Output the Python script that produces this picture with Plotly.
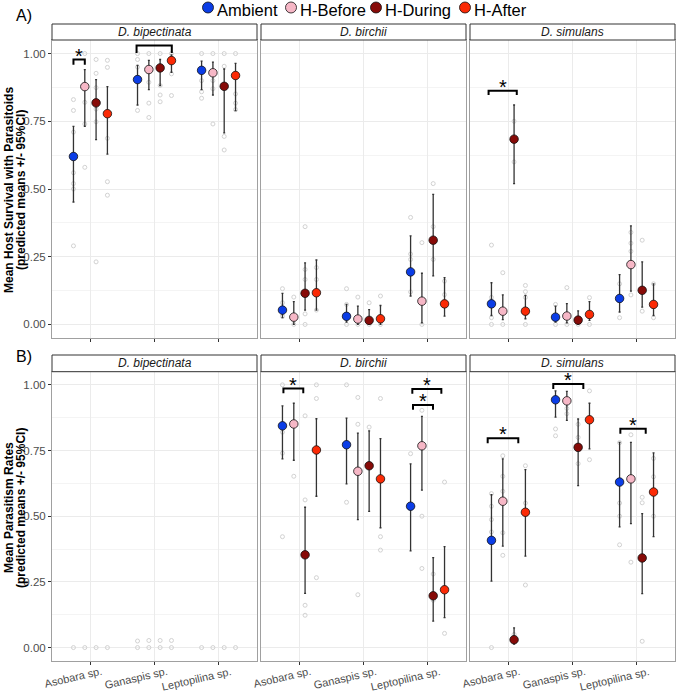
import plotly.graph_objects as go

W, H = 676, 693

parasitoids = ["Asobara sp.", "Ganaspis sp.", "Leptopilina sp."]
conditions = ["Ambient", "H-Before", "H-During", "H-After"]
cond_colors = ["#0b3de6", "#f6b7c6", "#870b08", "#fb2a05"]
species = ["D. bipectinata", "D. birchii", "D. simulans"]
ytick_vals = [0, 0.25, 0.5, 0.75, 1.0]
ytick_text = ["0.00", "0.25", "0.50", "0.75", "1.00"]
row_titles = [["Mean Host Survival with Parasitoids", "(predicted means +/- 95%CI)"],
              ["Mean Parasitism Rates", "(predicted means +/- 95%CI)"]]
row_tags = ["A)", "B)"]

# Order in every list: Asobara (Ambient, H-Before, H-During, H-After),
# then Ganaspis (same 4), then Leptopilina (same 4)

# ---- A) host survival with parasitoids ----
surv_bip_mean = [0.620, 0.878, 0.818, 0.778, 0.904, 0.941, 0.947, 0.974, 0.938, 0.929, 0.879, 0.919]
surv_bip_lo = [0.452, 0.731, 0.682, 0.629, 0.810, 0.867, 0.882, 0.931, 0.867, 0.847, 0.707, 0.789]
surv_bip_hi = [0.731, 0.941, 0.904, 0.878, 0.956, 0.975, 0.978, 0.995, 0.972, 0.968, 0.943, 0.964]
surv_bip_raw = [[0.83, 0.79, 0.71, 0.56, 0.52, 0.50, 0.29], [1.0, 0.82, 0.74, 0.58],
                [0.978, 0.927, 0.874, 0.795, 0.748, 0.231], [0.975, 0.949, 0.687, 0.527, 0.477],
                [1.0, 0.978, 0.95, 0.79], [1.0, 0.894, 0.817, 0.764],
                [1.0, 0.882, 0.847, 0.822], [1.0, 0.925, 0.845],
                [1.0, 0.9, 0.859, 0.835], [1.0, 0.9, 0.87, 0.74],
                [1.0, 0.953, 0.694, 0.644], [1.0, 0.851, 0.817, 0.793]]

surv_bir_mean = [0.053, 0.027, 0.115, 0.117, 0.030, 0.020, 0.015, 0.021, 0.194, 0.086, 0.311, 0.076]
surv_bir_lo = [0.025, 0.000, 0.053, 0.053, 0.009, 0.000, 0.000, 0.000, 0.105, 0.006, 0.179, 0.031]
surv_bir_hi = [0.115, 0.084, 0.227, 0.238, 0.074, 0.068, 0.055, 0.070, 0.327, 0.189, 0.480, 0.173]
surv_bir_raw = [[0.132, 0.08, 0.03], [0.101, 0.015, 0.0], [0.361, 0.203, 0.166, 0.039, 0.0], [0.21, 0.166, 0.053],
                [0.132, 0.074, 0.0], [0.101, 0.0], [0.08, 0.0], [0.105, 0.0],
                [0.395, 0.26, 0.24, 0.12], [0.302, 0.0], [0.52, 0.361, 0.24], [0.16, 0.11]]

surv_sim_mean = [0.076, 0.049, 0.684, 0.049, 0.027, 0.031, 0.016, 0.037, 0.096, 0.221, 0.126, 0.074]
surv_sim_lo = [0.033, 0.018, 0.520, 0.021, 0.009, 0.006, 0.000, 0.015, 0.046, 0.123, 0.064, 0.033]
surv_sim_hi = [0.154, 0.109, 0.810, 0.107, 0.068, 0.077, 0.050, 0.084, 0.184, 0.364, 0.231, 0.150]
surv_sim_raw = [[0.293, 0.1, 0.025, 0.0], [0.191, 0.0], [0.75, 0.6], [0.144, 0.121, 0.1, 0.0],
                [0.074, 0.0], [0.136, 0.0], [0.0], [0.099, 0.0],
                [0.15, 0.025], [0.34, 0.3, 0.27, 0.109], [0.311, 0.049], [0.15, 0.025]]

# ---- B) parasitism rates ----
para_bip_mean = None
para_bip_lo = None
para_bip_hi = None
para_bip_raw = [[0.0], [0.0], [0.0], [0.0],
                [0.0, 0.025], [0.0, 0.027], [0.0, 0.027], [0.0, 0.027],
                [0.0], [0.0], [0.0], [0.0]]

para_bir_mean = [0.844, 0.851, 0.353, 0.752, 0.772, 0.671, 0.692, 0.642, 0.538, 0.768, 0.197, 0.220]
para_bir_lo = [0.718, 0.713, 0.206, 0.576, 0.623, 0.487, 0.518, 0.456, 0.368, 0.599, 0.101, 0.114]
para_bir_hi = [0.920, 0.930, 0.534, 0.871, 0.873, 0.816, 0.825, 0.795, 0.699, 0.880, 0.342, 0.384]
para_bir_raw = [[1.0, 0.82, 0.74, 0.422], [0.652], [0.882, 0.562, 0.161, 0.123], [1.0, 0.948, 0.266],
                [1.0, 0.553], [0.952, 0.85, 0.201], [0.839], [0.948, 0.422, 0.371],
                [0.738], [0.903, 0.5, 0.301], [0.28, 0.18], [0.63, 0.054]]

para_sim_mean = [0.408, 0.557, 0.030, 0.515, 0.943, 0.939, 0.762, 0.867, 0.630, 0.642, 0.341, 0.592]
para_sim_lo = [0.253, 0.386, 0.013, 0.348, 0.877, 0.865, 0.616, 0.756, 0.459, 0.472, 0.205, 0.422]
para_sim_hi = [0.582, 0.718, 0.075, 0.677, 0.977, 0.975, 0.870, 0.930, 0.781, 0.781, 0.510, 0.741]
para_sim_raw = [[0.586, 0.538, 0.487, 0.44, 0.0], [0.73, 0.652, 0.595, 0.437, 0.351], [0.05], [0.692, 0.55, 0.238],
                [0.832, 0.806], [0.91, 0.89], [0.85, 0.8, 0.7], [0.977, 0.715],
                [0.78, 0.55, 0.5, 0.391], [0.81, 0.325], [0.572, 0.551, 0.024], [0.72, 0.65, 0.5]]

# significance brackets: (row, col, x_left, x_right, y_top, y_leg, star)
brackets = [
    (0, 0, 0.735, 0.912, 0.978, 0.959, True),
    (0, 0, 1.72, 2.27, 1.030, 1.002, False),
    (0, 2, 0.69, 1.13, 0.863, 0.847, True),
    (1, 1, 0.75, 1.06, 0.986, 0.968, True),
    (1, 1, 2.773, 3.085, 0.923, 0.905, True),
    (1, 1, 2.762, 3.215, 0.984, 0.966, True),
    (1, 2, 0.676, 1.154, 0.797, 0.778, True),
    (1, 2, 1.70, 2.169, 1.003, 0.984, True),
    (1, 2, 2.747, 3.143, 0.833, 0.814, True),
]

panels = [
    [(surv_bip_mean, surv_bip_lo, surv_bip_hi, surv_bip_raw),
     (surv_bir_mean, surv_bir_lo, surv_bir_hi, surv_bir_raw),
     (surv_sim_mean, surv_sim_lo, surv_sim_hi, surv_sim_raw)],
    [(para_bip_mean, para_bip_lo, para_bip_hi, para_bip_raw),
     (para_bir_mean, para_bir_lo, para_bir_hi, para_bir_raw),
     (para_sim_mean, para_sim_lo, para_sim_hi, para_sim_raw)],
]

dodge = [-0.265, -0.088, 0.088, 0.265]

def fx(px):
    return px / W

def fy(py):
    return 1 - py / H

panel_x = [(52, 257), (261, 466), (470, 675)]
panel_y = [(40, 338), (371.7, 660.7)]
strip_y = [(24, 40), (355, 371.7)]

FONT = "Liberation Sans, Arial, sans-serif"
fig = go.Figure()

def axnames(r, c):
    idx = r * 3 + c + 1
    s = "" if idx == 1 else str(idx)
    return "x" + s, "y" + s, "xaxis" + s, "yaxis" + s

# raw points first
for r in range(2):
    for c in range(3):
        xa, ya, _, _ = axnames(r, c)
        mean, lo, hi, raw = panels[r][c]
        for k in range(4):
            rx, ry = [], []
            for p in range(3):
                vals = raw[p * 4 + k]
                rx += [p + 1 + dodge[k]] * len(vals)
                ry += vals
            fig.add_trace(go.Scatter(
                x=rx, y=ry, mode="markers", xaxis=xa, yaxis=ya,
                marker=dict(symbol="circle-open", size=4, color="#d2d2d2", line=dict(width=1)),
                showlegend=False, hoverinfo="skip"))

# means with CI
for r in range(2):
    for c in range(3):
        xa, ya, _, _ = axnames(r, c)
        mean, lo, hi, raw = panels[r][c]
        if mean is None:
            continue
        for k in range(4):
            mx = [p + 1 + dodge[k] for p in range(3)]
            my = [mean[p * 4 + k] for p in range(3)]
            up = [hi[p * 4 + k] - mean[p * 4 + k] for p in range(3)]
            dn = [mean[p * 4 + k] - lo[p * 4 + k] for p in range(3)]
            fig.add_trace(go.Scatter(
                x=mx, y=my, mode="markers", xaxis=xa, yaxis=ya, name=conditions[k],
                marker=dict(size=8.5, color=cond_colors[k], line=dict(color="#111111", width=0.8)),
                error_y=dict(type="data", symmetric=False, array=up, arrayminus=dn,
                             color="#333333", thickness=1.3, width=1),
                showlegend=False))

layout = dict(width=W, height=H, margin=dict(l=0, r=0, t=0, b=0, autoexpand=False),
              paper_bgcolor="white", plot_bgcolor="white",
              font=dict(family=FONT), showlegend=False)

shapes = []
annotations = []
for r in range(2):
    for c in range(3):
        xa, ya, xname, yname = axnames(r, c)
        x0, x1 = panel_x[c]
        y0, y1 = panel_y[r]
        layout[xname] = dict(
            domain=[fx(x0), fx(x1)], range=[0.4, 3.6], anchor=ya, automargin=False,
            tickvals=[1, 2, 3], showticklabels=False,
            ticks="outside", ticklen=3, tickcolor="#333333", tickwidth=1,
            showgrid=True, gridcolor="#ebebeb", gridwidth=1, zeroline=False,
            showline=True, mirror=True, linecolor="#a0a0a0", linewidth=1)
        layout[yname] = dict(
            domain=[fy(y1), fy(y0)], range=[-0.05, 1.05], anchor=xa, automargin=False,
            tickvals=ytick_vals, ticktext=ytick_text, showticklabels=(c == 0),
            ticks="outside" if c == 0 else "", ticklen=3, tickcolor="#333333", tickwidth=1,
            tickfont=dict(size=11.5, color="#4d4d4d", family=FONT),
            showgrid=True, gridcolor="#ebebeb", gridwidth=1, zeroline=False,
            minor=dict(tickvals=[0.125, 0.375, 0.625, 0.875], showgrid=True,
                       gridcolor="#f4f4f4", gridwidth=1, ticks=""),
            showline=True, mirror=True, linecolor="#a0a0a0", linewidth=1)
        # rotated category labels under the bottom row
        if r == 1:
            for p in range(3):
                annotations.append(dict(xref=xa, yref="paper", x=p + 1, y=fy(662.5),
                                        text=parasitoids[p], showarrow=False, textangle=-13,
                                        xanchor="right", yanchor="top", xshift=16,
                                        font=dict(size=11, color="#4d4d4d", family=FONT)))
        # strip
        sy0, sy1 = strip_y[r]
        shapes.append(dict(type="rect", xref="paper", yref="paper",
                           x0=fx(x0), x1=fx(x1), y0=fy(sy1), y1=fy(sy0),
                           line=dict(color="#333333", width=1), fillcolor="white"))
        annotations.append(dict(xref="paper", yref="paper", x=fx((x0 + x1) / 2), y=fy((sy0 + sy1) / 2),
                                text="<i>" + species[c] + "</i>", showarrow=False,
                                xanchor="center", yanchor="middle",
                                font=dict(size=12, color="#1a1a1a", family=FONT)))
    # row title (two lines)
    ycen = [190, 508][r]
    for li, xc in enumerate([9, 21]):
        annotations.append(dict(xref="paper", yref="paper", x=fx(xc), y=fy(ycen),
                                text="<b>" + row_titles[r][li] + "</b>", showarrow=False, textangle=-90,
                                xanchor="center", yanchor="middle",
                                font=dict(size=12, color="black", family=FONT)))
    annotations.append(dict(xref="paper", yref="paper", x=fx(14), y=fy([16, 356][r]),
                            text=row_tags[r], showarrow=False, xanchor="left", yanchor="middle",
                            font=dict(size=16, color="black", family=FONT)))

for (r, c, bx0, bx1, ytop, yleg, star) in brackets:
    xa, ya, _, _ = axnames(r, c)
    shapes.append(dict(type="path", xref=xa, yref=ya,
                       path=f"M {bx0},{yleg} L {bx0},{ytop} L {bx1},{ytop} L {bx1},{yleg}",
                       line=dict(color="black", width=2)))
    if star:
        annotations.append(dict(xref=xa, yref=ya, x=(bx0 + bx1) / 2, y=ytop, text="*",
                                showarrow=False, xanchor="center", yanchor="bottom", yshift=-9,
                                font=dict(size=20, color="black", family=FONT)))

# legend on a hidden pixel-scaled axis
layout["xaxis7"] = dict(domain=[0, 1], range=[0, W], visible=False, anchor="y7", automargin=False)
layout["yaxis7"] = dict(domain=[fy(24), 1], range=[24, 0], visible=False, anchor="x7", automargin=False)
legend_x = [208, 291, 376, 465]
fig.add_trace(go.Scatter(x=legend_x, y=[7.5] * 4, mode="markers", xaxis="x7", yaxis="y7",
                         marker=dict(size=11, color=cond_colors, line=dict(color="#111111", width=0.8)),
                         showlegend=False, hoverinfo="skip", cliponaxis=False))
for k in range(4):
    annotations.append(dict(xref="x7", yref="y7", x=legend_x[k] + 8, y=0, text=conditions[k],
                            showarrow=False, xanchor="left", yanchor="top", borderpad=0,
                            font=dict(size=16.5, color="black", family=FONT)))

layout["shapes"] = shapes
layout["annotations"] = annotations
fig.update_layout(**layout)
fig.write_html("out.html")
